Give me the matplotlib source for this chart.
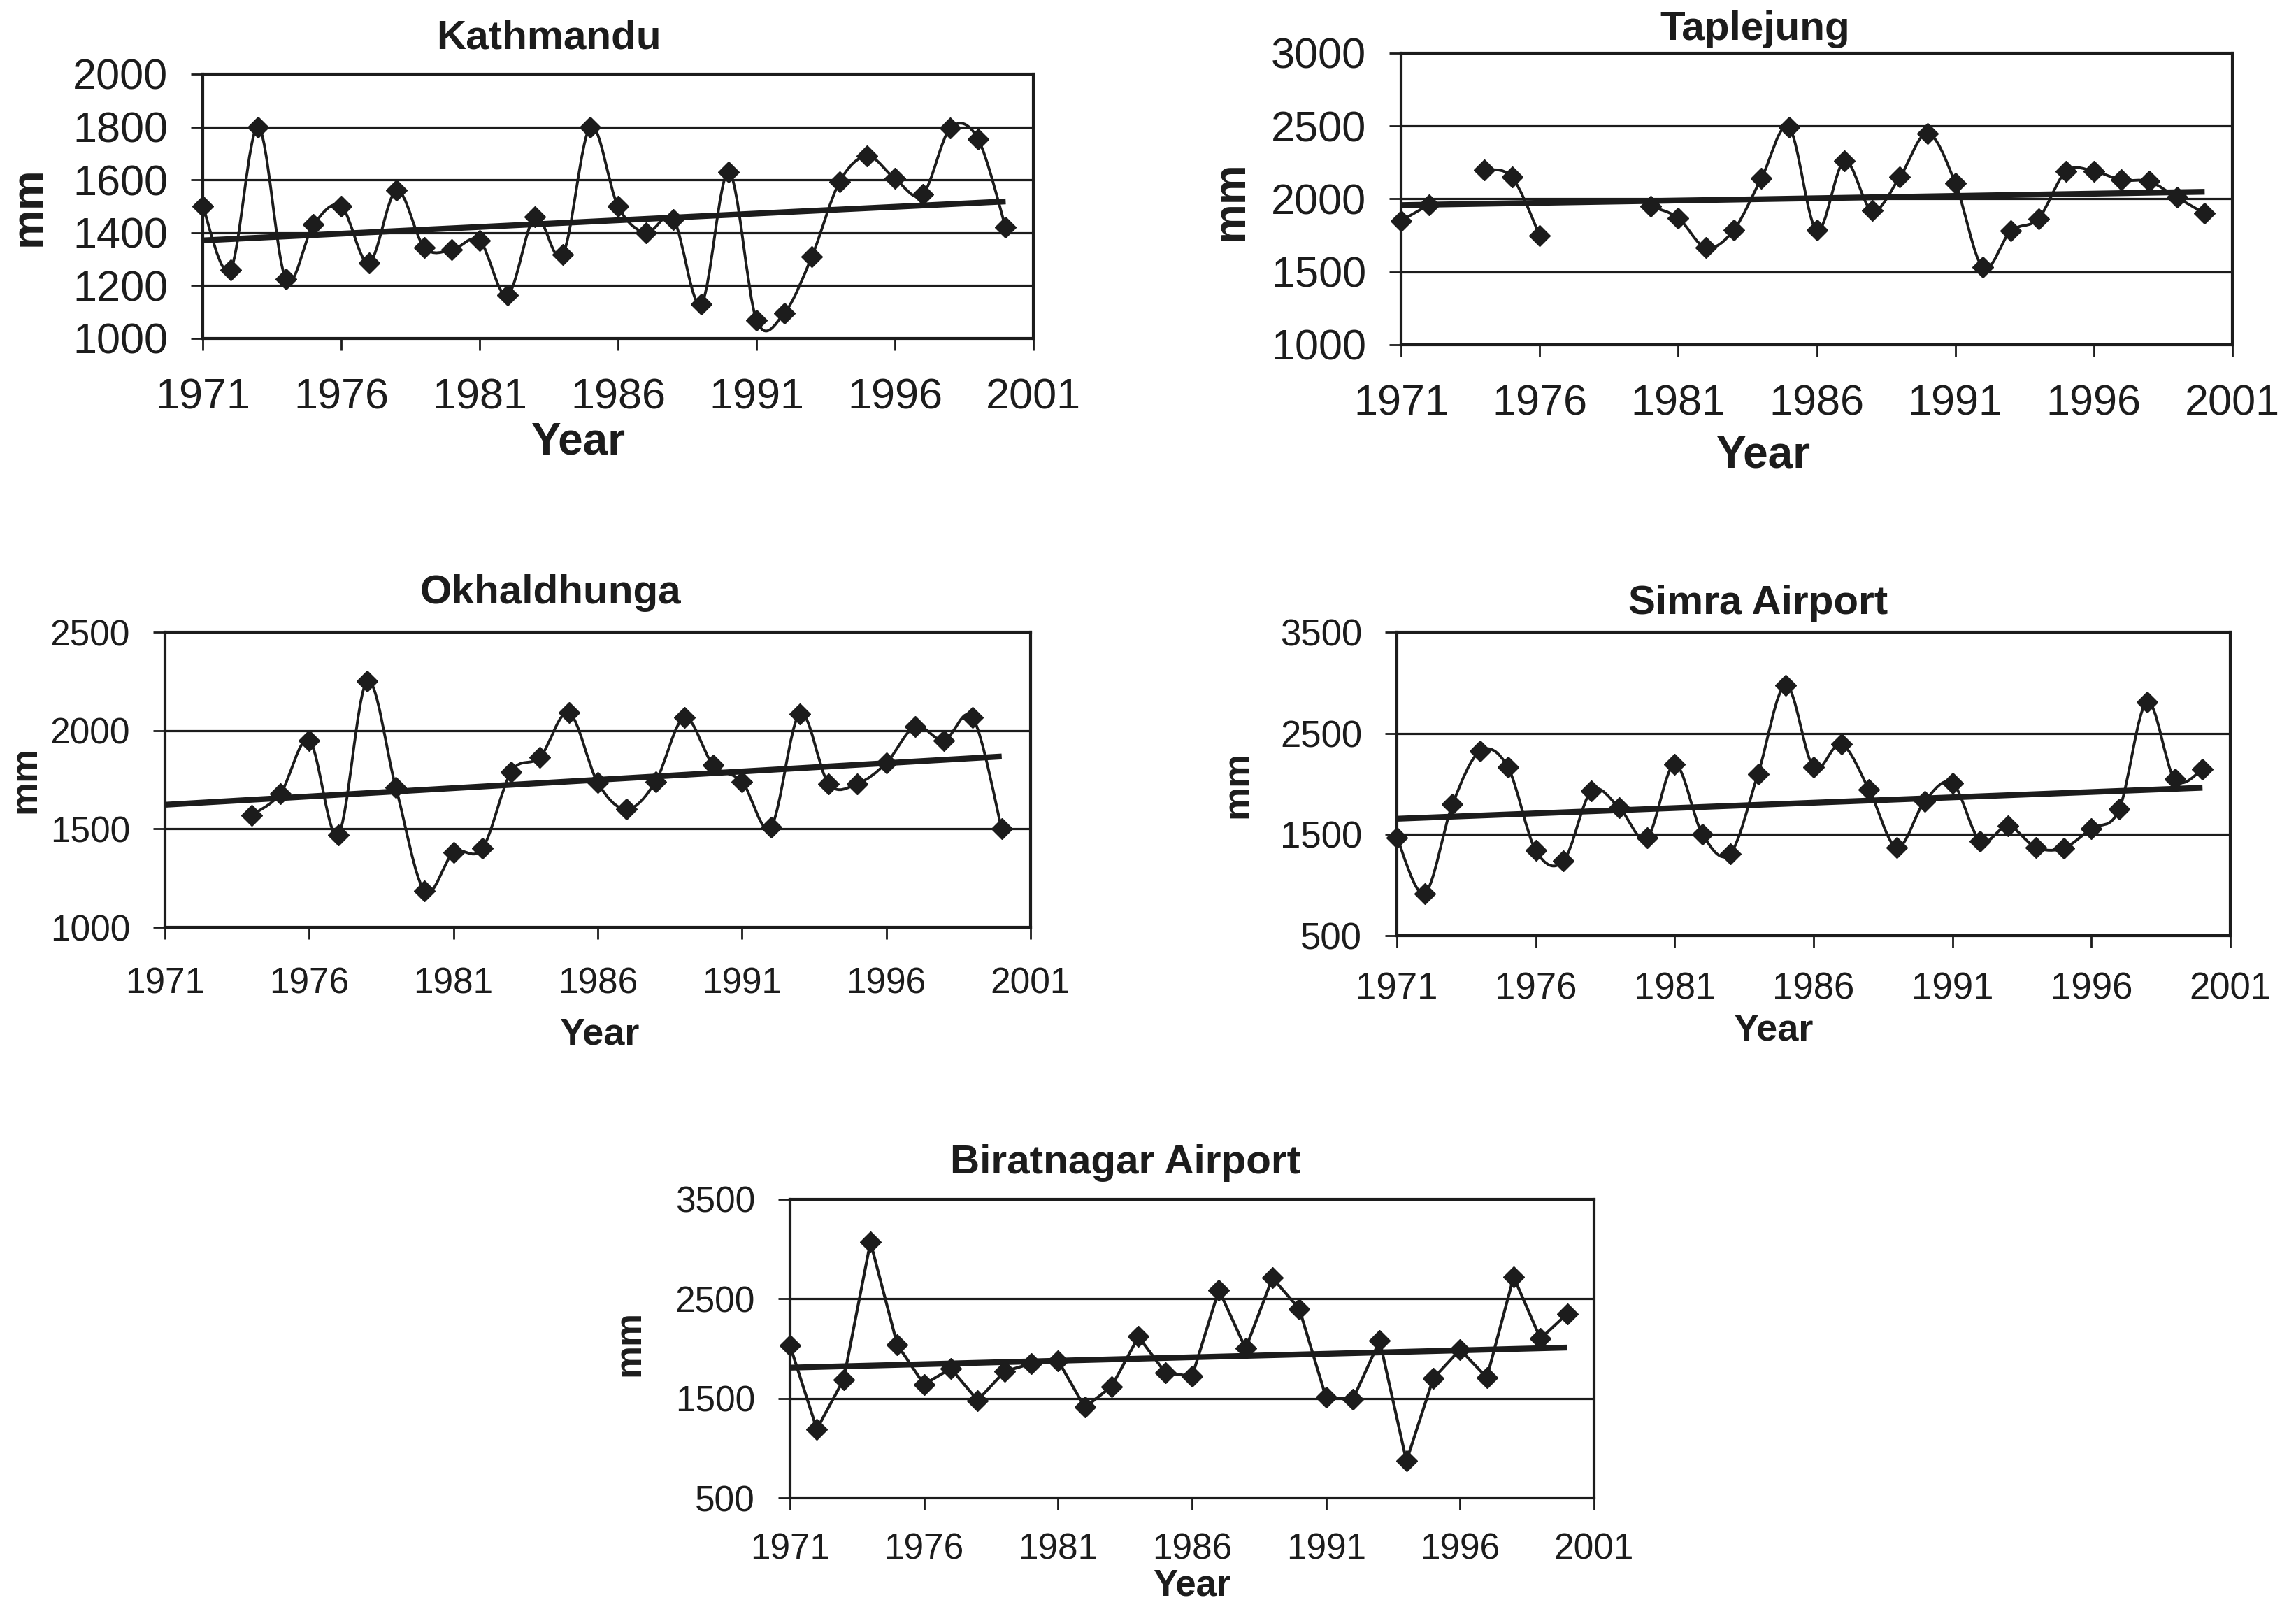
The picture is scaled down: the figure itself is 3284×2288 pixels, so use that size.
import numpy as np
import matplotlib
matplotlib.use("Agg")
import matplotlib.pyplot as plt
from matplotlib.path import Path
from matplotlib.patches import PathPatch

plt.rcParams['font.family'] = ['Liberation Sans', 'DejaVu Sans']

W, H = 3284, 2288
INK = '#1c1c1c'

years = np.arange(1971, 2001)
nan = np.nan

# annual rainfall (mm), 1971-2000
kathmandu = [1500, 1260, 1800, 1225, 1430, 1500, 1286, 1560, 1345, 1335,
             1370, 1163, 1460, 1317, 1800, 1500, 1400, 1450, 1130, 1630,
             1070, 1095, 1310, 1592, 1690, 1605, 1545, 1795, 1755, 1420]
taplejung = [1850, 1960, nan, 2200, 2150, 1750, nan, nan, nan, 1950,
             1870, 1665, 1785, 2140, 2490, 1785, 2260, 1920, 2150, 2450,
             2110, 1530, 1780, 1865, 2190, 2190, 2130, 2120, 2010, 1900]
okhaldhunga = [nan, nan, nan, 1570, 1680, 1950, 1470, 2250, 1710, 1185,
               1380, 1400, 1790, 1865, 2090, 1735, 1600, 1740, 2065, 1825,
               1740, 1510, 2085, 1730, 1730, 1835, 2020, 1950, 2065, 1500]
simra = [1470, 918, 1797, 2325, 2163, 1342, 1240, 1929, 1767, 1465,
         2194, 1502, 1311, 2099, 2977, 2166, 2394, 1942, 1371, 1829,
         2008, 1436, 1584, 1373, 1366, 1559, 1748, 2810, 2045, 2143]
biratnagar = [2030, 1190, 1690, 3070, 2040, 1640, 1800, 1480, 1770, 1850,
              1880, 1410, 1620, 2120, 1760, 1720, 2590, 2000, 2710, 2400,
              1510, 1490, 2080, 870, 1700, 1990, 1710, 2720, 2100, 2350]

xticks = [1971, 1976, 1981, 1986, 1991, 1996, 2001]

# name, values, y range, y step, smoothed, axes box (px: left, top, right, bottom),
# title / xlabel / ylabel centres (px), font sizes, x tick pad
panels = [
    dict(name='Kathmandu', y=kathmandu, lim=(1000, 2000), step=200, smooth=True,
         box=(290, 106, 1478, 484), title=(785, 54), xl=(827, 632), yl=(42, 295),
         tick=44, lab=46, xpad=29),
    dict(name='Taplejung', y=taplejung, lim=(1000, 3000), step=500, smooth=True,
         box=(2004, 76, 3193, 493), title=(2510, 42), xl=(2522, 651), yl=(1761, 287),
         tick=44, lab=46, xpad=29),
    dict(name='Okhaldhunga', y=okhaldhunga, lim=(1000, 2500), step=500, smooth=True,
         box=(236, 904, 1474, 1326), title=(787, 848), xl=(857, 1480), yl=(36, 1115),
         tick=37, lab=39, xpad=29),
    dict(name='Simra Airport', y=simra, lim=(500, 3500), step=1000, smooth=True,
         box=(1998, 904, 3190, 1338), title=(2515, 863), xl=(2536, 1474), yl=(1770, 1122),
         tick=38, lab=39, xpad=25),
    dict(name='Biratnagar Airport', y=biratnagar, lim=(500, 3500), step=1000, smooth=False,
         box=(1130, 1715, 2280, 2142), title=(1610, 1663), xl=(1705, 2268), yl=(900, 1921),
         tick=37, lab=38, xpad=24),
]


def smooth_path(x, y):
    # smoothed line as cubic Bezier segments, broken at missing years
    verts, codes = [], []
    ok = ~np.isnan(y)
    i, n = 0, len(x)
    while i < n:
        if not ok[i]:
            i += 1
            continue
        j = i
        while j + 1 < n and ok[j + 1]:
            j += 1
        sx, sy = x[i:j + 1], y[i:j + 1]
        verts.append((sx[0], sy[0]))
        codes.append(Path.MOVETO)
        for k in range(len(sx) - 1):
            a = k - 1 if k > 0 else k
            b = k + 2 if k + 2 < len(sx) else k + 1
            c1 = (sx[k] + (sx[k + 1] - sx[a]) / 6, sy[k] + (sy[k + 1] - sy[a]) / 6)
            c2 = (sx[k + 1] - (sx[b] - sx[k]) / 6, sy[k + 1] - (sy[b] - sy[k]) / 6)
            verts += [c1, c2, (sx[k + 1], sy[k + 1])]
            codes += [Path.CURVE4] * 3
        i = j + 1
    return Path(verts, codes)


def fx(px):
    return px / W


def fy(py):
    return 1 - py / H


fig = plt.figure(figsize=(W / 100, H / 100), dpi=100)
fig.patch.set_facecolor('white')

for p in panels:
    l, t, r, b = p['box']
    ax = fig.add_axes([fx(l), fy(b), (r - l) / W, (b - t) / H])
    y = np.array(p['y'], dtype=float)
    x = years.astype(float)

    lo, hi = p['lim']
    ax.set_xlim(1971, 2001)
    ax.set_ylim(lo, hi)
    ax.set_yticks(np.arange(lo, hi + 1, p['step']))
    ax.set_xticks(xticks)
    ax.yaxis.grid(True, color=INK, linewidth=2.3)
    ax.set_axisbelow(True)
    for s in ax.spines.values():
        s.set_linewidth(3)
        s.set_color(INK)
    ax.tick_params(axis='both', direction='out', length=12, width=2, color=INK,
                   labelsize=p['tick'], labelcolor=INK)
    ax.tick_params(axis='x', pad=p['xpad'])
    ax.tick_params(axis='y', pad=24)

    if p['smooth']:
        ax.add_patch(PathPatch(smooth_path(x, y), facecolor='none', edgecolor=INK,
                               linewidth=2.8, zorder=3))
    else:
        ax.plot(x, y, color=INK, linewidth=3, zorder=3)
    ax.plot(x, y, linestyle='none', marker='D', markersize=15, color=INK,
            clip_on=False, zorder=4)

    # linear trend over the available years
    m = ~np.isnan(y)
    k, c = np.polyfit(x[m], y[m], 1)
    ax.plot([1971, 2000], [k * 1971 + c, k * 2000 + c], color=INK, linewidth=6,
            solid_capstyle='butt', zorder=5)

    fig.text(fx(p['title'][0]), fy(p['title'][1]), p['name'], ha='center', va='center',
             fontsize=42, fontweight='bold', color=INK)
    fig.text(fx(p['xl'][0]), fy(p['xl'][1]), 'Year', ha='center', va='center',
             fontsize=p['lab'], fontweight='bold', color=INK)
    fig.text(fx(p['yl'][0]), fy(p['yl'][1]), 'mm', ha='center', va='center',
             rotation=90, fontsize=p['lab'], fontweight='bold', color=INK)

fig.savefig('out.png', dpi=100, facecolor='white')
